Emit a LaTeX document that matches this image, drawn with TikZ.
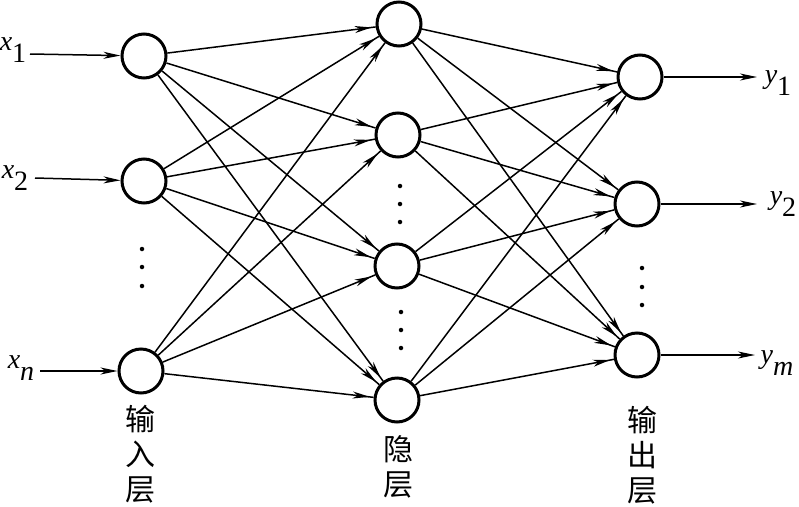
\documentclass[tikz,border=0pt]{standalone}
\usepackage{fontspec}
\setmainfont{Liberation Serif}
\newfontfamily\cjk{Noto Sans CJK SC}
\usetikzlibrary{arrows.meta,decorations.markings}
\newcommand\lvar[2]{\textit{#1}\raisebox{-0.4em}{#2}}
\begin{document}
\begin{tikzpicture}[x=1pt,y=-1pt,
  >={Stealth[length=17pt,width=7pt,inset=5pt]},
  neuron/.style={circle,draw,line width=3pt,minimum size=44pt,inner sep=0pt,fill=white},
  conn/.style={line width=1.5pt,postaction={decorate},
    decoration={markings,mark=at position -4pt with {\arrow{>}}}},
  ioarrow/.style={line width=1.5pt,->},
  lab/.style={font=\fontsize{28}{28}\selectfont,inner sep=0pt},
  layerlab/.style={font=\cjk\fontsize{30}{35}\selectfont,align=center,inner sep=0pt},
  dot/.style={circle,fill,inner sep=0pt,minimum size=4.5pt}]
\useasboundingbox (0,0) rectangle (799,506);
% neurons
\node[neuron] (i1) at (144,56) {};
\node[neuron] (i2) at (144,181) {};
\node[neuron] (i3) at (141,371) {};
\node[neuron] (h1) at (399,24) {};
\node[neuron] (h2) at (398,135) {};
\node[neuron] (h3) at (397,266) {};
\node[neuron] (h4) at (397,400) {};
\node[neuron] (o1) at (640,77) {};
\node[neuron] (o2) at (637,204) {};
\node[neuron] (o3) at (637,355) {};
% connections
\foreach \a in {i1,i2,i3}{\foreach \b in {h1,h2,h3,h4}{\draw[conn] (\a) -- (\b);}}
\foreach \a in {h1,h2,h3,h4}{\foreach \b in {o1,o2,o3}{\draw[conn] (\a) -- (\b);}}
% input labels
\node[lab] (x1) at (13,50) {\lvar{x}{1}};
\node[lab] (x2) at (15,178) {\lvar{x}{2}};
\node[lab] (xn) at (21,368) {\lvar{x}{\textit{n}}};
\coordinate (s1) at (30,54);
\coordinate (s2) at (35,178);
\coordinate (s3) at (40,371);
\draw[ioarrow] (s1) -- (i1);
\draw[ioarrow] (s2) -- (i2);
\draw[ioarrow] (s3) -- (i3);
% outputs
\coordinate (e1) at (757,77);
\coordinate (e2) at (757,204);
\coordinate (e3) at (755,355);
\draw[ioarrow] (o1) -- (e1);
\draw[ioarrow] (o2) -- (e2);
\draw[ioarrow] (o3) -- (e3);
\node[lab] (y1) at (778,83) {\lvar{y}{1}};
\node[lab] (y2) at (783,204) {\lvar{y}{2}};
\node[lab] (ym) at (777,363) {\lvar{y}{\textit{m}}};
% dots
\foreach \y [count=\k] in {249,267,286}{\node[dot] (di\k) at (142,\y) {};}
\foreach \y [count=\k] in {186,204,222}{\node[dot] (dha\k) at (400,\y) {};}
\foreach \y [count=\k] in {312,330,348}{\node[dot] (dhb\k) at (401,\y) {};}
\foreach \y [count=\k] in {268,287,305}{\node[dot] (do\k) at (642,\y) {};}
% layer labels
\node[layerlab] (L1) at (140,454) {输\\入\\层};
\node[layerlab] (L2) at (398,467) {隐\\层};
\node[layerlab] (L3) at (642,455) {输\\出\\层};
\end{tikzpicture}
\end{document}
